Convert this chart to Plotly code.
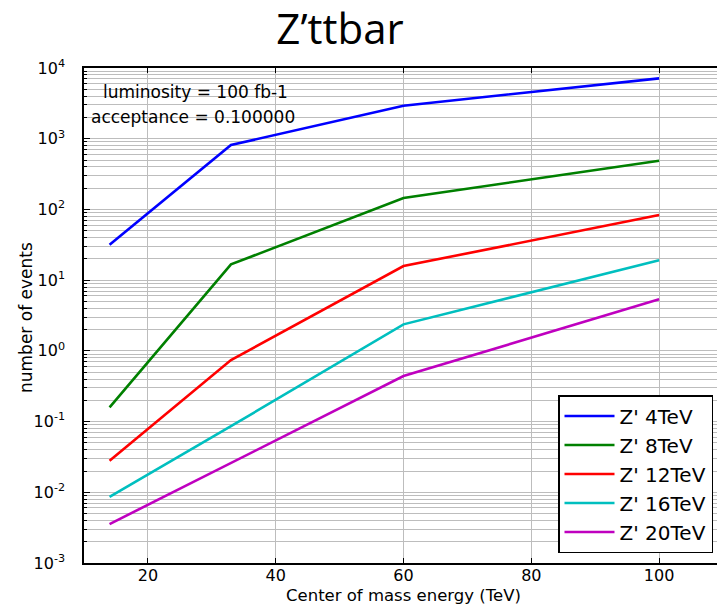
import plotly.graph_objects as go

# Data
energies = [14, 33, 60, 100]  # Center of mass energy (TeV)
z4 = [31.7, 815, 2930, 7140]
z8 = [0.159, 16.7, 145, 489]
z12 = [0.0279, 0.741, 15.8, 83.3]
z16 = [0.00863, 0.086, 2.37, 19.1]
z20 = [0.00355, 0.026, 0.44, 5.35]

series_names = ["Z' 4TeV", "Z' 8TeV", "Z' 12TeV", "Z' 16TeV", "Z' 20TeV"]
series_values = [z4, z8, z12, z16, z20]
series_colors = ["#0000ff", "#008000", "#ff0000", "#00bfbf", "#bf00bf"]

y_tick_vals = [1e-3, 1e-2, 1e-1, 1e0, 1e1, 1e2, 1e3, 1e4]
y_tick_text = ["10<sup>-3</sup>", "10<sup>-2</sup>", "10<sup>-1</sup>", "10<sup>0</sup>",
               "10<sup>1</sup>", "10<sup>2</sup>", "10<sup>3</sup>", "10<sup>4</sup>"]
x_tick_vals = [20, 40, 60, 80, 100]

minor_vals = [m * 10.0 ** e for e in range(-3, 4) for m in range(2, 10)]

W, H = 717, 606
L, T, B, R = 84, 68, 43, 0
pw = W - L - R
ph = H - T - B

fig = go.Figure()
for name, vals, col in zip(series_names, series_values, series_colors):
    fig.add_trace(go.Scatter(x=energies, y=vals, mode="lines", name=name,
                             line=dict(color=col, width=2.6), legendgroup=name))

grid_col = "#bdbdbd"
fig.update_layout(
    width=W, height=H,
    margin=dict(l=L, r=R, t=T, b=B, pad=0),
    paper_bgcolor="white", plot_bgcolor="white",
    font=dict(family="DejaVu Sans", size=16, color="black"),
    showlegend=True,
    legend=dict(
        x=(713 - L) / pw, y=(H - B - 553) / ph, xanchor="right", yanchor="bottom",
        bgcolor="white", bordercolor="black", borderwidth=1.5,
        font=dict(size=20, family="DejaVu Sans"), tracegroupgap=0,
        itemwidth=50,
    ),
    xaxis=dict(
        range=[10, 10 + pw / 6.39], tickvals=x_tick_vals, ticks="inside", ticklen=5,
        tickcolor="black", showline=True, linecolor="black", linewidth=1.5,
        mirror="ticks", showgrid=True, gridcolor=grid_col, gridwidth=1,
        zeroline=False, tickfont=dict(size=16), ticklabelstandoff=-3,
    ),
    yaxis=dict(
        type="log", range=[-3, 4], tickmode="array", tickvals=y_tick_vals,
        ticktext=y_tick_text, ticks="inside", ticklen=6, tickcolor="black",
        showline=True, linecolor="black", linewidth=1.5, mirror=False,
        showgrid=True, gridcolor=grid_col, gridwidth=1, zeroline=False,
        ticklabelstandoff=14, tickfont=dict(size=16),
        minor=dict(tickmode="array", tickvals=minor_vals, ticks="inside", ticklen=3,
                   tickcolor="black", showgrid=True, gridcolor=grid_col, gridwidth=1),
    ),
    title=dict(text="Z’ttbar", font=dict(family="Open Sans", size=42, color="black"),
               xref="container", x=340 / W, xanchor="center",
               yref="container", y=1 - 29 / H, yanchor="middle"),
)

fig.add_annotation(text="Center of mass energy (TeV)", xref="paper", yref="paper",
                   x=(403 - L) / pw, y=(H - B - 606) / ph, xanchor="center", yanchor="bottom",
                   borderpad=0, showarrow=False, font=dict(size=16.5))
fig.add_annotation(text="number of events", xref="paper", yref="paper",
                   x=(26 - L) / pw, y=(H - B - 318) / ph, xanchor="center", yanchor="middle",
                   textangle=-90, showarrow=False, font=dict(size=17))
fig.add_annotation(text="luminosity = 100 fb-1", xref="paper", yref="paper",
                   x=(195 - L) / pw, y=(H - B - 92) / ph, xanchor="center", yanchor="middle",
                   showarrow=False, font=dict(size=17))
fig.add_annotation(text="acceptance = 0.100000", xref="paper", yref="paper",
                   x=(193 - L) / pw, y=(H - B - 117) / ph, xanchor="center", yanchor="middle",
                   showarrow=False, font=dict(size=17))

fig.write_html("out.html")
